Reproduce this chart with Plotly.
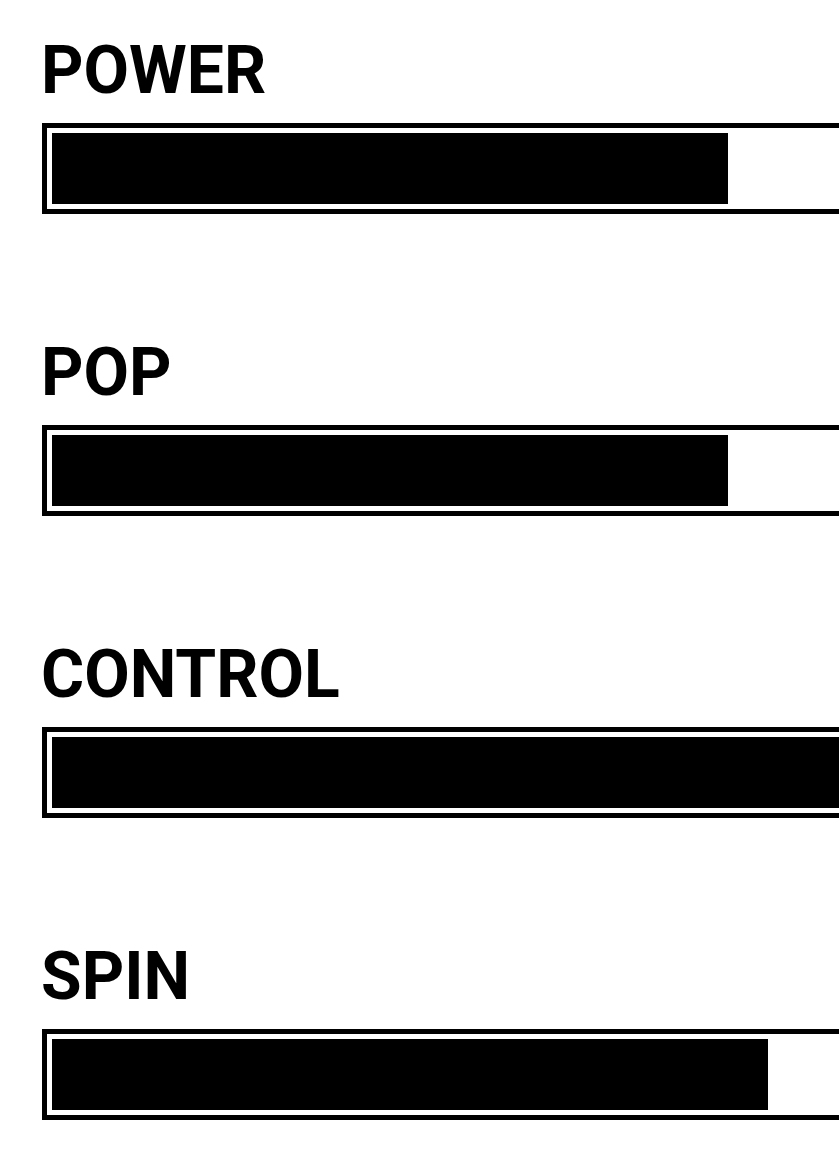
import plotly.graph_objects as go

# ---- data ----
categories = ["POWER", "POP", "CONTROL", "SPIN"]
values = [8.5, 8.5, 10, 9]
max_value = 10

# ---- layout constants (pixels) ----
W, H = 839, 1150
bar_left_px = 52
bar_full_px = 795          # pixel length of the full scale (0..10)
first_center_px = 168.5
row_step_px = 302
bar_h_px = 71
frame_pad_px = 10          # distance from bar edge to outer frame edge
border_px = 5

px_per_unit = bar_full_px / max_value
x0 = -bar_left_px / px_per_unit
x1 = x0 + W / px_per_unit
y_top = -first_center_px / row_step_px
y_bot = y_top + H / row_step_px

fig = go.Figure()
fig.add_trace(go.Bar(
    x=values, y=list(range(len(categories))), orientation="h",
    marker=dict(color="#000000", line=dict(width=0)),
    width=bar_h_px / row_step_px, hoverinfo="skip", showlegend=False,
))

shapes = []
annotations = []
for i, cat in enumerate(categories):
    off_x = (frame_pad_px - border_px / 2) / px_per_unit
    off_y = (bar_h_px / 2 + frame_pad_px - border_px / 2) / row_step_px
    shapes.append(dict(
        type="rect", xref="x", yref="y",
        x0=-off_x, x1=max_value + off_x,
        y0=i - off_y, y1=i + off_y,
        line=dict(color="#000000", width=border_px),
        fillcolor="rgba(0,0,0,0)", layer="below",
    ))
    annotations.append(dict(
        text=cat, xref="paper", yref="y",
        x=39 / W, y=i, xanchor="left", yanchor="bottom",
        yshift=(bar_h_px / 2 + frame_pad_px) + 12,
        showarrow=False,
        font=dict(family="Roboto", size=66, color="#000000", weight=700),
    ))

fig.update_layout(
    width=W, height=H,
    margin=dict(l=0, r=0, t=0, b=0),
    paper_bgcolor="#ffffff", plot_bgcolor="#ffffff",
    xaxis=dict(range=[x0, x1], visible=False, fixedrange=True),
    yaxis=dict(range=[y_bot, y_top], visible=False, fixedrange=True),
    shapes=shapes, annotations=annotations,
    bargap=0,
)

fig.write_html(
    "out.html",
    config={"displayModeBar": False},
    post_script="document.body.style.margin='0';document.body.style.overflow='hidden';",
)
